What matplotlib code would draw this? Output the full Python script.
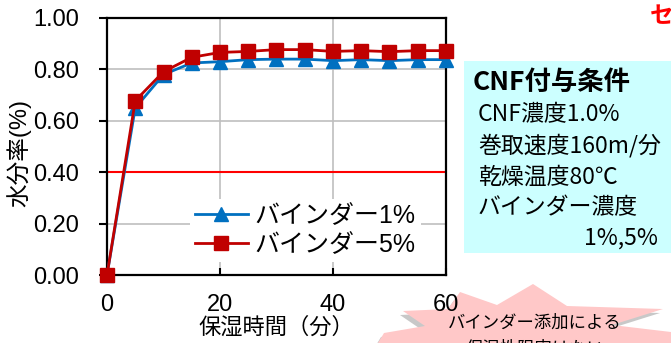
import matplotlib
matplotlib.use("Agg")
import matplotlib.pyplot as plt
from matplotlib.patches import Polygon, Rectangle

plt.rcParams['font.family'] = ['Liberation Sans', 'Noto Sans CJK JP', 'DejaVu Sans']

# ---- data ----
time_min = [0, 5, 10, 15, 20, 25, 30, 35, 40, 45, 50, 55, 60]
binder_1 = [0.00, 0.65, 0.78, 0.825, 0.83, 0.838, 0.84, 0.84, 0.834, 0.838, 0.834, 0.838, 0.838]
binder_5 = [0.00, 0.678, 0.791, 0.847, 0.866, 0.870, 0.877, 0.877, 0.870, 0.873, 0.869, 0.873, 0.873]
series_labels = ['バインダー1%', 'バインダー5%']
threshold = 0.40
yticks = [0.0, 0.2, 0.4, 0.6, 0.8, 1.0]
xticks = [0, 20, 40, 60]
y_label = '水分率(%)'
x_label = '保湿時間（分）'
box_title = 'CNF付与条件'
box_lines = ['CNF濃度1.0%', '巻取速度160m/分', '乾燥温度80℃', 'バインダー濃度']
box_last = '1%,5%'
callout_lines = ['バインダー添加による', '保湿性阻害はない']
corner_text = 'セ'

W, H = 671, 343
fig = plt.figure(figsize=(W / 100, H / 100), dpi=100)

def px(x, y):
    return (x / W, 1 - y / H)

ax = fig.add_axes([107 / W, 1 - 275 / H, (446 - 107) / W, (275 - 18) / H])
ax.set_xlim(0, 60)
ax.set_ylim(0, 1.0)
ax.set_xticks(xticks)
ax.set_yticks(yticks)
ax.set_yticklabels([f'{v:.2f}' for v in yticks])
ax.grid(True, color='#BFBFBF', lw=1.2)
ax.set_axisbelow(True)
for s in ax.spines.values():
    s.set_linewidth(1.6)
    s.set_color('black')
ax.tick_params(axis='y', direction='out', length=6, width=1.5, pad=14, labelsize=17)
ax.tick_params(axis='x', direction='in', length=5, width=1.5, pad=14, labelsize=17)

ax.axhline(threshold, color='#FF0000', lw=1.5, zorder=2)
ax.plot(time_min, binder_1, color='#0070C0', lw=2, marker='^', ms=10,
        label=series_labels[0], clip_on=False, zorder=3)
ax.plot(time_min, binder_5, color='#C00000', lw=2, marker='s', ms=9.5,
        label=series_labels[1], clip_on=False, zorder=4)

leg = ax.legend(loc='lower left', bbox_to_anchor=(0.245, 0.05), fontsize=18,
                frameon=True, fancybox=False, handlelength=2.1, handletextpad=0.28,
                labelspacing=0.2, borderpad=0.2, borderaxespad=0)
leg.get_frame().set_edgecolor('none')
leg.get_frame().set_facecolor('white')
leg.get_frame().set_alpha(1)

fig.text(*px(19, 153), y_label, fontsize=17, rotation=90, va='center', ha='center')
fig.text(*px(276, 328), x_label, fontsize=16, va='center', ha='center')

# ---- condition box ----
fig.patches.append(Rectangle(px(464, 253), (W - 464) / W, (253 - 61) / H,
                             transform=fig.transFigure, facecolor='#CCFFFF',
                             edgecolor='none', zorder=-1))
jp = ['Noto Sans CJK JP', 'DejaVu Sans']
fig.text(*px(473, 82), box_title, fontsize=19, fontweight='bold', family=jp,
         va='center', ha='left')
ys = [115, 146, 177, 208]
for t, y in zip(box_lines, ys):
    fig.text(*px(478, y), t, fontsize=16.5, family=jp, va='center', ha='left')
fig.text(*px(658, 238), box_last, fontsize=16.5, family=jp, va='center', ha='right')

# ---- corner text ----
fig.text(*px(650, 16), corner_text, fontsize=17, fontweight='bold', color='#FF0000',
         family=jp, va='center', ha='left')

# ---- callout starburst ----
star = [(378, 343), (384, 333), (425, 326), (403, 311), (448, 309), (460, 292),
        (497, 305), (533, 284), (567, 306), (663, 309), (612, 325), (671, 332),
        (671, 343)]
shadow = [(x - 3, y + 4) for x, y in star]
fig.patches.append(Polygon([px(x, y) for x, y in shadow], closed=True,
                           transform=fig.transFigure, facecolor='#C8C8C8',
                           edgecolor='none', zorder=-3))
fig.patches.append(Polygon([px(x, y) for x, y in star], closed=True,
                           transform=fig.transFigure, facecolor='#FFC8C8',
                           edgecolor='none', zorder=-2))
fig.text(*px(535, 323), callout_lines[0], fontsize=12.5, family=jp,
         va='center', ha='center', zorder=3)
fig.text(*px(535, 349), callout_lines[1], fontsize=12.5, family=jp,
         va='center', ha='center', zorder=3)

fig.savefig('out.png', dpi=100)
